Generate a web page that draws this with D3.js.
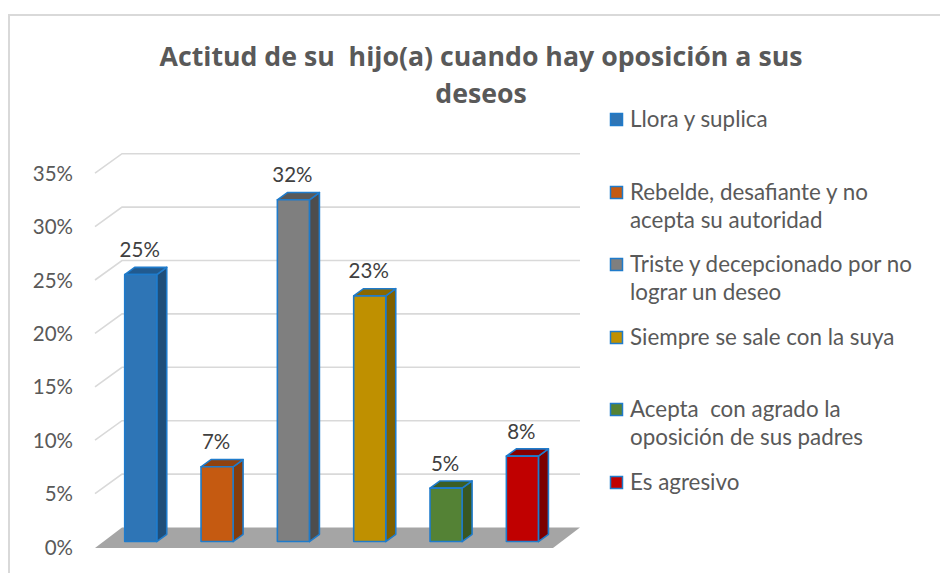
<!DOCTYPE html>
<html>
<head>
<meta charset="utf-8">
<script src="https://cdn.jsdelivr.net/npm/d3@7"></script>
<style>
  html, body { margin: 0; padding: 0; background: #fff; }
  svg { display: block; font-family: Lato, "Open Sans", sans-serif; }
</style>
</head>
<body>
<svg id="chart" width="940" height="573"></svg>
<script>
const categories = [
  "Llora y suplica",
  "Rebelde, desafiante y no acepta su autoridad",
  "Triste y decepcionado por no lograr un deseo",
  "Siempre se sale con la suya",
  "Acepta  con agrado la oposición de sus padres",
  "Es agresivo"
];
const values = [0.25, 0.07, 0.32, 0.23, 0.05, 0.08];
const valueLabels = ["25%", "7%", "32%", "23%", "5%", "8%"];
const legendLines = [
  ["Llora y suplica"],
  ["Rebelde, desafiante y no", "acepta su autoridad"],
  ["Triste y decepcionado por no", "lograr un deseo"],
  ["Siempre se sale con la suya"],
  ["Acepta  con agrado la", "oposición de sus padres"],
  ["Es agresivo"]
];
const frontColors = ["#2E75B6", "#C55A11", "#7F7F7F", "#BF9000", "#548235", "#C00000"];
const sideColors  = ["#1F4E79", "#843C0C", "#4D4D4D", "#7F6000", "#385723", "#7B0000"];
const topColors   = ["#215A8F", "#8F4210", "#595959", "#8A6800", "#3B5E26", "#860000"];
const tickValues = [0, 0.05, 0.10, 0.15, 0.20, 0.25, 0.30, 0.35];
const tickLabels = ["0%", "5%", "10%", "15%", "20%", "25%", "30%", "35%"];
const titleLines = ["Actitud de su  hijo(a) cuando hay oposición a sus", "deseos"];

const svg = d3.select("#chart");

// frame
svg.append("rect").attr("x", 9).attr("y", 15).attr("width", 960).attr("height", 600)
  .attr("fill", "none").attr("stroke", "#d9d9d9").attr("stroke-width", 2);

// geometry
const DX = 27, DY = -19.5;
const y = d3.scaleLinear().domain([0, 0.35]).range([547, 173.2]);
const x = d3.scaleBand().domain(categories).range([95, 553]).padding(0);
const barFrac = 0.42;
const dFront = 0.28, dBack = 0.65;

// gridlines
const grid = svg.append("g");
tickValues.filter(v => v > 0).forEach(v => {
  const yf = y(v), yb = y(v) + DY;
  grid.append("path")
    .attr("d", `M${95},${yf}L${95 + DX},${yb}L${553 + DX},${yb}`)
    .attr("fill", "none").attr("stroke", "#d9d9d9").attr("stroke-width", 1.6);
});

// floor
const y0 = y(0);
svg.append("path")
  .attr("d", `M${95},${y0 + 1}L${553},${y0 + 1}L${553 + DX},${y0 + DY}L${95 + DX},${y0 + DY}Z`)
  .attr("fill", "#a5a5a5");

// axis labels
const axis = d3.axisLeft(y).tickValues(tickValues).tickFormat((d, i) => tickLabels[i])
  .tickSize(0).tickPadding(22);
const ag = svg.append("g").attr("transform", "translate(95,0)").call(axis);
ag.select(".domain").remove();
ag.selectAll("text").attr("fill", "#595959").style("font-size", "20.5px")
  .style("font-family", "Lato, 'Open Sans', sans-serif").attr("dy", "0.35em");

// bars
const bars = svg.append("g");
categories.forEach((c, i) => {
  const bw = x.bandwidth() * barFrac;
  const x0 = x(c) + (x.bandwidth() - bw) / 2 + DX * dFront;
  const yb = y(0) + DY * dFront;
  const yt = y(values[i]) + DY * dFront;
  const ddx = DX * (dBack - dFront), ddy = DY * (dBack - dFront);
  const g = bars.append("g").attr("stroke", "#1F7BCB").attr("stroke-width", 1.6)
    .attr("stroke-linejoin", "round");
  g.append("path").attr("d",
    `M${x0 + bw},${yt}L${x0 + bw + ddx},${yt + ddy}L${x0 + bw + ddx},${yb + ddy}L${x0 + bw},${yb}Z`)
    .attr("fill", sideColors[i]);
  g.append("path").attr("d",
    `M${x0},${yt}L${x0 + ddx},${yt + ddy}L${x0 + bw + ddx},${yt + ddy}L${x0 + bw},${yt}Z`)
    .attr("fill", topColors[i]);
  g.append("rect").attr("x", x0).attr("y", yt).attr("width", bw).attr("height", yb - yt)
    .attr("fill", frontColors[i]);
  svg.append("text").attr("x", x0 + bw / 2 - 1).attr("y", yt - 17.5)
    .attr("text-anchor", "middle").attr("fill", "#404040").style("font-size", "20.5px")
    .text(valueLabels[i]);
});

// title (fit line 1 to reference width)
const title = svg.append("g").attr("fill", "#595959").style("font-weight", "bold")
  .style("font-family", "'Open Sans', Lato, sans-serif");
const t1 = title.append("text").attr("x", 481).attr("y", 66).attr("text-anchor", "middle")
  .style("font-size", "24px").style("white-space", "pre").text(titleLines[0]);
const w1 = t1.node().getComputedTextLength();
const titleSize = 24 * 643 / w1;
t1.style("font-size", titleSize + "px");
title.append("text").attr("x", 481).attr("y", 103).attr("text-anchor", "middle")
  .style("font-size", titleSize + "px").text(titleLines[1]);

// legend
const legendBaselines = [[127], [200, 228], [272, 300], [345], [417, 445], [490]];
const lg = svg.append("g").attr("fill", "#595959");
const probe = lg.append("text").style("font-size", "20px").text(legendLines[2][0]);
const legendSize = 20 * 282 / probe.node().getComputedTextLength();
probe.remove();
legendLines.forEach((lines, i) => {
  const b0 = legendBaselines[i][0];
  lg.append("rect").attr("x", 610.5).attr("y", b0 - 13.5).attr("width", 12).attr("height", 12)
    .attr("fill", frontColors[i]).attr("stroke", "#1F7BCB").attr("stroke-width", 1.5);
  lines.forEach((t, j) => {
    lg.append("text").attr("x", 630).attr("y", legendBaselines[i][j])
      .style("font-size", legendSize + "px").style("white-space", "pre").text(t);
  });
});
</script>
</body>
</html>
